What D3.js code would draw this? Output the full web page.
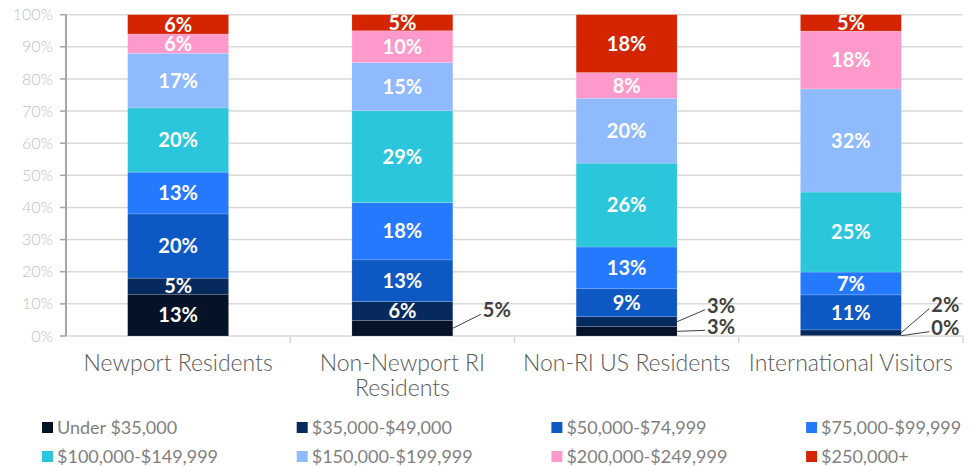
<!doctype html>
<html>
<head>
<meta charset="utf-8">
<style>
    body { margin: 0; background: #fff; }
    svg { font-family: "Century Gothic", Lato, sans-serif; }
    .grid line { stroke: #d9d9d9; stroke-width: 1.5; }
    .ylab { fill: #bfbfbf; font-size: 16px; font-weight: 300; }
    .catlab { fill: #595959; font-size: 23px; font-weight: 300; }
    .seglab { fill: #fff; font-size: 20px; font-weight: 700; }
    .callout { fill: #404040; font-size: 20px; font-weight: 700; }
    .leglab { fill: #7f7f7f; font-size: 18px; }
</style>
<script src="https://d3js.org/d3.v7.min.js"></script>
</head>
<body>
<svg width="974" height="466"></svg>
<script>
// categories and income brackets
var categories = ["Newport Residents", "Non-Newport RI Residents", "Non-RI US Residents", "International Visitors"];
var brackets = ["Under $35,000", "$35,000-$49,000", "$50,000-$74,999", "$75,000-$99,999",
                "$100,000-$149,999", "$150,000-$199,999", "$200,000-$249,999", "$250,000+"];
var colors = ["#041328", "#072a5e", "#0e58c4", "#2479fc", "#2cc6dc", "#8fbafd", "#fe9acb", "#d42500"];

// share (%) by bracket, bottom to top
var newport       = [13, 5, 20, 13, 20, 17, 6, 6];
var nonNewportRI  = [4.8, 5.9, 13.0, 17.8, 28.6, 15.0, 9.9, 5.0];
var nonRIUS       = [2.9, 3.1, 8.7, 13.0, 26.1, 20.2, 8.0, 18.0];
var international = [0.2, 1.7, 10.9, 7.1, 24.9, 32.1, 18.0, 5.1];
var values = [newport, nonNewportRI, nonRIUS, international];

var yTicks = [0, 10, 20, 30, 40, 50, 60, 70, 80, 90, 100];

// small segments labelled outside the bar: [category, bracket, vertical offset of label]
var callouts = [
    [1, 0, -18],
    [2, 0, -5],
    [2, 1, -16],
    [3, 0, -8],
    [3, 1, -28]
];

var svg = d3.select("svg");
var plotL = 66, plotR = 963, plotT = 14.7, plotB = 336;

var x = d3.scaleBand().domain(categories).range([plotL, plotR]);
var y = d3.scaleLinear().domain([0, 100]).range([plotB, plotT]);
var barW = x.bandwidth() * 0.45;

// gridlines
svg.append("g").attr("class", "grid")
   .selectAll("line").data(yTicks.slice(1)).enter().append("line")
   .attr("x1", plotL).attr("x2", plotR)
   .attr("y1", function(d) { return y(d); })
   .attr("y2", function(d) { return y(d); });

// x baseline + category ticks
svg.append("line")
   .attr("x1", plotL).attr("x2", plotR).attr("y1", plotB).attr("y2", plotB)
   .attr("stroke", "#d9d9d9").attr("stroke-width", 1.5);
svg.selectAll(".xtick").data(categories).enter().append("line")
   .attr("class", "xtick")
   .attr("x1", function(d) { return x(d) + x.bandwidth(); })
   .attr("x2", function(d) { return x(d) + x.bandwidth(); })
   .attr("y1", plotB).attr("y2", plotB + 7)
   .attr("stroke", "#d9d9d9").attr("stroke-width", 1.5);

// y axis
svg.append("line")
   .attr("x1", plotL).attr("x2", plotL).attr("y1", plotT).attr("y2", plotB)
   .attr("stroke", "#a6a6a6").attr("stroke-width", 2);
svg.selectAll(".ytick").data(yTicks).enter().append("line")
   .attr("class", "ytick")
   .attr("x1", plotL - 6).attr("x2", plotL)
   .attr("y1", function(d) { return y(d); })
   .attr("y2", function(d) { return y(d); })
   .attr("stroke", "#a6a6a6").attr("stroke-width", 1.5);
svg.selectAll(".ylab").data(yTicks).enter().append("text")
   .attr("class", "ylab")
   .attr("x", 53)
   .attr("y", function(d) { return y(d); })
   .attr("dy", "0.35em")
   .attr("text-anchor", "end")
   .text(function(d) { return d + "%"; });

// stacked bars
var isCallout = function(c, s) {
    return callouts.some(function(k) { return k[0] === c && k[1] === s; });
};
var fmt = function(v) { return Math.round(v) + "%"; };

categories.forEach(function(cat, c) {
    var g = svg.append("g");
    var x0 = x(cat) + (x.bandwidth() - barW) / 2;
    var cum = 0;
    var segs = values[c].map(function(v, s) {
        var seg = { s: s, v: v, y0: cum, y1: cum + v };
        cum += v;
        return seg;
    });

    g.selectAll("rect").data(segs).enter().append("rect")
     .attr("x", x0)
     .attr("width", barW)
     .attr("y", function(d) { return y(d.y1); })
     .attr("height", function(d) { return y(d.y0) - y(d.y1); })
     .attr("fill", function(d) { return colors[d.s]; })
     .attr("stroke", "rgba(255,255,255,0.25)")
     .attr("stroke-width", 0.6);

    g.selectAll(".seglab").data(segs.filter(function(d) { return !isCallout(c, d.s); }))
     .enter().append("text")
     .attr("class", "seglab")
     .attr("x", x0 + barW / 2)
     .attr("y", function(d) { return y((d.y0 + d.y1) / 2); })
     .attr("dy", "0.36em")
     .attr("text-anchor", "middle")
     .text(function(d) { return fmt(d.v); });

    callouts.filter(function(k) { return k[0] === c; }).forEach(function(k) {
        var d = segs[k[1]];
        var ax = x0 + barW, ay = y((d.y0 + d.y1) / 2);
        var ty = ay + k[2];
        g.append("line")
         .attr("x1", ax).attr("y1", ay)
         .attr("x2", ax + 28).attr("y2", ty + 4)
         .attr("stroke", "#404040").attr("stroke-width", 1);
        g.append("text")
         .attr("class", "callout")
         .attr("x", ax + 30)
         .attr("y", ty)
         .attr("dy", "0.36em")
         .text(fmt(d.v));
    });
});

// category labels
var catLines = {
    "Non-Newport RI Residents": ["Non-Newport RI", "Residents"]
};
categories.forEach(function(cat) {
    var lines = catLines[cat] || [cat];
    var t = svg.append("text")
       .attr("class", "catlab")
       .attr("x", x(cat) + x.bandwidth() / 2)
       .attr("y", 363)
       .attr("text-anchor", "middle");
    lines.forEach(function(l, i) {
        t.append("tspan")
         .attr("x", x(cat) + x.bandwidth() / 2)
         .attr("dy", i === 0 ? "0.35em" : "1.1em")
         .text(l);
    });
});

// legend
var legend = svg.append("g");
var item = legend.selectAll("g").data(brackets).enter().append("g")
   .attr("transform", function(d, i) {
       return "translate(" + (42 + (i % 4) * 254.7) + "," + (427.5 + Math.floor(i / 4) * 29) + ")";
   });
item.append("rect")
    .attr("x", 0).attr("y", -5.5).attr("width", 11).attr("height", 11)
    .attr("fill", function(d, i) { return colors[i]; });
item.append("text")
    .attr("class", "leglab")
    .attr("x", 15)
    .attr("dy", "0.35em")
    .text(function(d) { return d; });
</script>
</body>
</html>
